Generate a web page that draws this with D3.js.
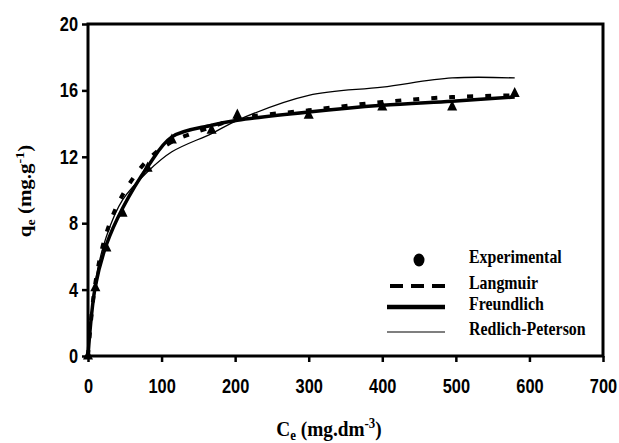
<!DOCTYPE html>
<html>
<head>
<title>Isotherms</title>
<style>
  body { margin: 0; background: #fff; }
</style>
</head>
<body>

<!-- Create a div where the graph will take place -->
<div id="my_dataviz"></div>

<script src="https://d3js.org/d3.v7.min.js"></script>
<script>

    // Experimental points (Ce, qe)
    var ceValues = [0, 10, 25, 47, 81, 114, 168, 203, 300, 400, 495, 580];
    var qeExperimental = [0, 4.1, 6.5, 8.6, 11.3, 13.0, 13.6, 14.5, 14.5, 15.0, 15.0, 15.8];

    // Model curves read at the same Ce values
    var qeLangmuir = [0, 4.4, 7.4, 9.7, 11.8, 12.9, 13.8, 14.3, 14.8, 15.3, 15.6, 15.7];
    var qeFreundlich = [0, 4.2, 6.7, 8.9, 11.4, 13.2, 13.9, 14.2, 14.7, 15.1, 15.35, 15.6];
    var qeRedlich = [0, 4.5, 7.2, 9.4, 11.1, 12.3, 13.4, 14.2, 15.7, 16.2, 16.75, 16.75];

    // Tick labels
    var xTicks = [0, 100, 200, 300, 400, 500, 600, 700];
    var yTicks = [0, 4, 8, 12, 16, 20];

    var legendLabels = ["Experimental", "Langmuir", "Freundlich", "Redlich-Peterson"];

    // set the dimensions of the graph
    var width = 619, height = 443;
    var margin = {left: 88, right: 603, top: 24, bottom: 356};
    var squeeze = 0.82;   // the original text is narrow

    var svg = d3.select("#my_dataviz")
      .append("svg")
        .attr("width", width)
        .attr("height", height);

    var x = d3.scaleLinear().domain([0, 700]).range([margin.left, margin.right]);
    var y = d3.scaleLinear().domain([0, 20]).range([margin.bottom, margin.top]);

    // X axis
    var gx = svg.append("g")
      .attr("transform", "translate(0," + margin.bottom + ")")
      .call(d3.axisBottom(x).tickValues(xTicks).tickSize(6).tickPadding(17));

    // Y axis
    var gy = svg.append("g")
      .attr("transform", "translate(" + margin.left + ",0)")
      .call(d3.axisLeft(y).tickValues(yTicks).tickSize(6).tickPadding(4));

    [gx, gy].forEach(function(g) {
      g.select(".domain").remove();
      g.selectAll("line").attr("stroke", "#000").attr("stroke-width", 2.5);
      g.selectAll("text")
        .attr("fill", "#000")
        .style("font-family", "Arial, 'Liberation Sans', sans-serif")
        .style("font-weight", "bold")
        .style("font-size", "20px");
    });
    gx.selectAll("text").attr("transform", "scale(" + squeeze + ",1)");
    gy.selectAll("text")
      .attr("x", -10 / squeeze)
      .attr("transform", "scale(" + squeeze + ",1)");

    // frame round the plot
    svg.append("rect")
      .attr("x", margin.left)
      .attr("y", margin.top)
      .attr("width", margin.right - margin.left)
      .attr("height", margin.bottom - margin.top)
      .attr("fill", "none")
      .attr("stroke", "#000")
      .attr("stroke-width", 3);

    function series(vals) {
      return ceValues.map(function(c, i) { return {ce: c, qe: vals[i]}; });
    }

    var line = d3.line()
      .curve(d3.curveCatmullRom.alpha(0.5))
      .x(function(d) { return x(d.ce); })
      .y(function(d) { return y(d.qe); });

    // Redlich-Peterson (thin)
    svg.append("path")
      .datum(series(qeRedlich))
      .attr("d", line)
      .attr("fill", "none")
      .attr("stroke", "#000")
      .attr("stroke-width", 1.3);

    // Freundlich (thick)
    svg.append("path")
      .datum(series(qeFreundlich))
      .attr("d", line)
      .attr("fill", "none")
      .attr("stroke", "#000")
      .attr("stroke-width", 3.5);

    // Langmuir (square dots)
    svg.append("path")
      .datum(series(qeLangmuir))
      .attr("d", line)
      .attr("fill", "none")
      .attr("stroke", "#000")
      .attr("stroke-width", 4)
      .attr("stroke-dasharray", "6,12");

    // Experimental points: triangles
    svg.selectAll(".pt")
      .data(series(qeExperimental))
      .enter()
      .append("path")
      .attr("class", "pt")
      .attr("transform", function(d) {
        return "translate(" + x(d.ce) + "," + y(d.qe) + ") scale(0.85,1)";
      })
      .attr("d", d3.symbol().type(d3.symbolTriangle).size(60))
      .attr("fill", "#000");

    // Legend
    var lg = svg.append("g").attr("transform", "translate(387,0)");
    var rowsY = [260, 286, 307, 332];

    lg.append("ellipse")
      .attr("cx", 32).attr("cy", rowsY[0]).attr("rx", 5.5).attr("ry", 6.5).attr("fill", "#000");
    lg.append("line")
      .attr("x1", 3).attr("x2", 58).attr("y1", rowsY[1]).attr("y2", rowsY[1])
      .attr("stroke", "#000").attr("stroke-width", 4).attr("stroke-dasharray", "13,8");
    lg.append("line")
      .attr("x1", 0).attr("x2", 58).attr("y1", rowsY[2]).attr("y2", rowsY[2])
      .attr("stroke", "#000").attr("stroke-width", 4.3);
    lg.append("line")
      .attr("x1", 0).attr("x2", 58).attr("y1", rowsY[3]).attr("y2", rowsY[3])
      .attr("stroke", "#000").attr("stroke-width", 1.2);

    lg.selectAll(".lab")
      .data(legendLabels)
      .enter()
      .append("text")
      .attr("class", "lab")
      .attr("transform", function(d, i) {
        return "translate(82," + (rowsY[i] + 3) + ") scale(0.86,1)";
      })
      .style("font-family", "'Times New Roman', 'Liberation Serif', serif")
      .style("font-weight", "bold")
      .style("font-size", "18.5px")
      .text(function(d) { return d; });

    // Axis titles
    var xt = svg.append("text")
      .attr("transform", "translate(329,436) scale(0.92,1)")
      .attr("text-anchor", "middle")
      .style("font-family", "'Times New Roman', 'Liberation Serif', serif")
      .style("font-weight", "bold")
      .style("font-size", "21px");
    xt.append("tspan").text("C");
    xt.append("tspan").attr("dy", 4).style("font-size", "14px").text("e");
    xt.append("tspan").attr("dy", -4).text(" (mg.dm");
    xt.append("tspan").attr("dy", -8).style("font-size", "14px").text("-3");
    xt.append("tspan").attr("dy", 8).text(")");

    var yt = svg.append("text")
      .attr("transform", "translate(31,191) rotate(-90) scale(1,0.88)")
      .attr("text-anchor", "middle")
      .style("font-family", "'Times New Roman', 'Liberation Serif', serif")
      .style("font-weight", "bold")
      .style("font-size", "21px");
    yt.append("tspan").text("q");
    yt.append("tspan").attr("dy", 4).style("font-size", "14px").text("e");
    yt.append("tspan").attr("dy", -4).text(" (mg.g");
    yt.append("tspan").attr("dy", -8).style("font-size", "14px").text("-1");
    yt.append("tspan").attr("dy", 8).text(")");

</script>

</body>
</html>
